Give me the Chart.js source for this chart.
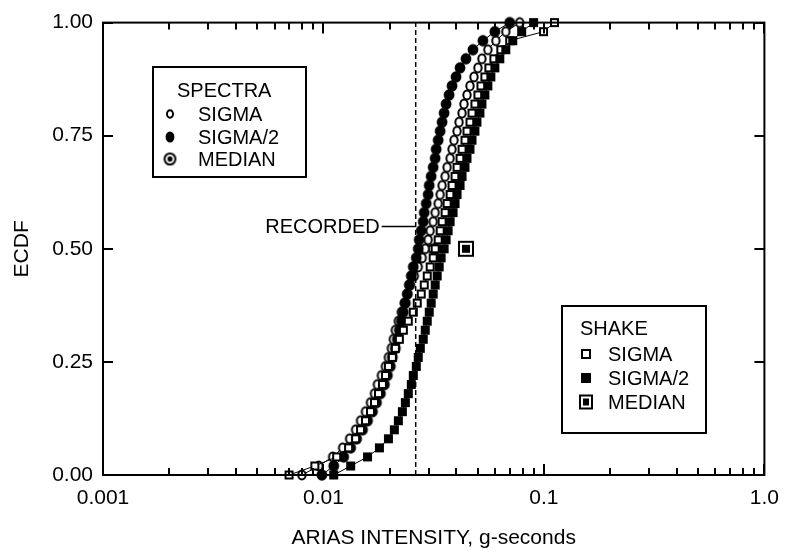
<!DOCTYPE html>
<html><head><meta charset="utf-8">
<script src="https://cdn.jsdelivr.net/npm/chart.js@4"></script>
<style>html,body{margin:0;padding:0;background:#fff;}canvas{display:block;}</style>
</head><body>
<canvas id="c" width="790" height="553"></canvas>
<script>
// ---------- data ----------
const ecdfLevels = [0, 0.02, 0.04, 0.06, 0.08, 0.1, 0.12, 0.14, 0.16, 0.18, 0.2, 0.22, 0.24, 0.26, 0.28, 0.3, 0.32, 0.34, 0.36, 0.38, 0.4, 0.42, 0.44, 0.46, 0.48, 0.5, 0.52, 0.54, 0.56, 0.58, 0.6, 0.62, 0.64, 0.66, 0.68, 0.7, 0.72, 0.74, 0.76, 0.78, 0.8, 0.82, 0.84, 0.86, 0.88, 0.9, 0.92, 0.94, 0.96, 0.98, 1];
const spectraSigma = [0.00798, 0.00952, 0.01101, 0.01222, 0.01314, 0.01399, 0.01473, 0.01551, 0.01634, 0.01703, 0.01757, 0.01832, 0.01909, 0.01970, 0.02032, 0.02075, 0.02118, 0.02186, 0.02255, 0.02327, 0.02400, 0.02476, 0.02581, 0.02691, 0.02805, 0.02894, 0.02985, 0.03048, 0.03145, 0.03211, 0.03312, 0.03382, 0.03453, 0.03562, 0.03637, 0.03752, 0.03830, 0.03911, 0.04035, 0.04119, 0.04250, 0.04339, 0.04476, 0.04618, 0.04814, 0.05018, 0.05231, 0.05567, 0.06050, 0.06712, 0.07761];
const spectraHalfSigma = [0.00983, 0.01113, 0.01235, 0.01328, 0.01413, 0.01504, 0.01584, 0.01668, 0.01739, 0.01813, 0.01890, 0.01950, 0.02011, 0.02053, 0.02118, 0.02163, 0.02209, 0.02255, 0.02303, 0.02351, 0.02400, 0.02451, 0.02502, 0.02555, 0.02636, 0.02691, 0.02719, 0.02776, 0.02834, 0.02864, 0.02924, 0.02985, 0.03017, 0.03080, 0.03145, 0.03211, 0.03244, 0.03312, 0.03382, 0.03453, 0.03525, 0.03599, 0.03713, 0.03830, 0.03993, 0.04162, 0.04430, 0.04764, 0.05285, 0.05987, 0.06996];
const shakeSigma = [0.00698, 0.00914, 0.01148, 0.01300, 0.01399, 0.01473, 0.01551, 0.01634, 0.01703, 0.01776, 0.01851, 0.01909, 0.01970, 0.02053, 0.02118, 0.02209, 0.02303, 0.02425, 0.02555, 0.02663, 0.02776, 0.02864, 0.02955, 0.03048, 0.03145, 0.03211, 0.03312, 0.03382, 0.03453, 0.03562, 0.03637, 0.03752, 0.03830, 0.03952, 0.04035, 0.04162, 0.04250, 0.04384, 0.04476, 0.04618, 0.04715, 0.04864, 0.05018, 0.05176, 0.05396, 0.05625, 0.05925, 0.06371, 0.06996, 0.09958, 0.11163];
const shakeHalfSigma = [0.01113, 0.01328, 0.01584, 0.01794, 0.01970, 0.02097, 0.02186, 0.02279, 0.02351, 0.02425, 0.02502, 0.02555, 0.02636, 0.02691, 0.02748, 0.02834, 0.02894, 0.02955, 0.03017, 0.03080, 0.03145, 0.03211, 0.03278, 0.03347, 0.03417, 0.03525, 0.03599, 0.03675, 0.03752, 0.03870, 0.03952, 0.04035, 0.04162, 0.04250, 0.04384, 0.04476, 0.04618, 0.04715, 0.04864, 0.04966, 0.05123, 0.05231, 0.05396, 0.05567, 0.05743, 0.05987, 0.06306, 0.06712, 0.07217, 0.07924, 0.08976];
const spectraMedian = [0.0318, 0.5];
const shakeMedian = [0.0443, 0.5];
const recordedValue = 0.0262;
const recordedLabelLevel = 0.55;
const xTickValues = [0.001, 0.01, 0.1, 1];
const xTickLabels = ['0.001', '0.01', '0.1', '1.0'];
const yTickValues = [0, 0.25, 0.5, 0.75, 1];
const yTickLabels = ['0.00', '0.25', '0.50', '0.75', '1.00'];

// ---------- marker images ----------
function mk(w, h, draw) { const c = document.createElement('canvas'); c.width = w; c.height = h; draw(c.getContext('2d'), w / 2, h / 2); return c; }
function ell(ctx, cx, cy, rx, ry) { ctx.beginPath(); ctx.ellipse(cx, cy, rx, ry, 0, 0, Math.PI * 2); }
const imgOpenCircle = mk(12, 14, (c, x, y) => { ell(c, x, y, 3.7, 4.5); c.fillStyle = '#fff'; c.fill(); c.lineWidth = 2; c.strokeStyle = '#000'; c.stroke(); });
const imgFilledCircle = mk(14, 14, (c, x, y) => { ell(c, x, y, 5.4, 5.8); c.fillStyle = '#000'; c.fill(); });
const imgOpenSquare = mk(11, 11, (c) => { c.fillStyle = '#000'; c.fillRect(1, 1, 9, 9); c.fillStyle = '#fff'; c.fillRect(3, 3, 5, 5); });
const imgFilledSquare = mk(11, 11, (c) => { c.fillStyle = '#000'; c.fillRect(1, 1, 9, 9); });
const imgSpectraMedian = mk(17, 14, (c, x, y) => { ell(c, x, y, 6, 4.6); c.fillStyle = '#fff'; c.fill(); c.lineWidth = 2.2; c.strokeStyle = '#000'; c.stroke(); ell(c, x, y, 2.2, 2.2); c.fillStyle = '#000'; c.fill(); });
const imgShakeMedian = mk(18, 18, (c) => { c.fillStyle = '#000'; c.fillRect(1, 1, 16, 16); c.fillStyle = '#fff'; c.fillRect(3, 3, 12, 12); c.fillStyle = '#000'; c.fillRect(5, 5, 8, 8); });
// legend variants
const lgOpenCircle = mk(10, 12, (c, x, y) => { ell(c, x, y, 3, 3.8); c.fillStyle = '#fff'; c.fill(); c.lineWidth = 2; c.strokeStyle = '#000'; c.stroke(); });
const lgFilledCircle = mk(12, 14, (c, x, y) => { ell(c, x, y, 4.4, 5.6); c.fillStyle = '#000'; c.fill(); });
const lgSpectraMedian = mk(15, 15, (c, x, y) => { ell(c, x, y, 5.4, 5.6); c.lineWidth = 2; c.strokeStyle = '#000'; c.stroke(); ell(c, x, y, 2.5, 2.8); c.fillStyle = '#000'; c.fill(); });
const lgOpenSquare = mk(12, 12, (c) => { c.fillStyle = '#000'; c.fillRect(1, 1, 10, 10); c.fillStyle = '#fff'; c.fillRect(3, 3, 6, 6); });
const lgFilledSquare = mk(12, 12, (c) => { c.fillStyle = '#000'; c.fillRect(1, 1, 10, 10); });
const lgShakeMedian = mk(16, 17, (c) => { c.fillStyle = '#000'; c.fillRect(1, 1, 14, 15); c.fillStyle = '#fff'; c.fillRect(3, 3, 10, 11); c.fillStyle = '#000'; c.fillRect(5, 5, 6, 7); });

function pts(xs) { return xs.map((x, i) => ({ x: x, y: ecdfLevels[i] })); }
const FONT = "'Liberation Sans', Arial, Helvetica, sans-serif";

function series(label, xs, img) {
  return { label, data: pts(xs), showLine: true, borderColor: '#000', borderWidth: 1, pointStyle: img, pointRadius: 5, clip: false };
}

const decorPlugin = {
  id: 'decor',
  afterDatasetsDraw(chart) {
    const { ctx, chartArea: a, scales: { x, y } } = chart;
    ctx.save();
    ctx.strokeStyle = '#000'; ctx.lineWidth = 2;
    ctx.strokeRect(a.left, a.top, a.right - a.left, a.bottom - a.top);
    ctx.beginPath();
    for (const v of xTickValues) {
      const px = Math.round(x.getPixelForValue(v));
      ctx.moveTo(px, a.bottom); ctx.lineTo(px, a.bottom - 11);
      ctx.moveTo(px, a.top); ctx.lineTo(px, a.top + 11);
    }
    for (let d = 0.001; d < 0.9; d *= 10) {
      for (let m = 2; m <= 9; m++) {
        const px = Math.round(x.getPixelForValue(m * d));
        ctx.moveTo(px, a.bottom); ctx.lineTo(px, a.bottom - 7);
        ctx.moveTo(px, a.top); ctx.lineTo(px, a.top + 7);
      }
    }
    for (const v of yTickValues) {
      const py = Math.round(y.getPixelForValue(v));
      ctx.moveTo(a.left, py); ctx.lineTo(a.left + 10, py);
      ctx.moveTo(a.right, py); ctx.lineTo(a.right - 10, py);
    }
    ctx.stroke();
    // RECORDED label
    const rx = x.getPixelForValue(recordedValue);
    const ry = Math.round(y.getPixelForValue(recordedLabelLevel)) + 0.5;
    ctx.lineWidth = 1.5;
    ctx.beginPath(); ctx.moveTo(rx - 34, ry); ctx.lineTo(rx, ry); ctx.stroke();
    ctx.fillStyle = '#000'; ctx.font = '20px ' + FONT; ctx.textAlign = 'right'; ctx.textBaseline = 'middle';
    ctx.fillText('RECORDED', rx - 36, ry + 1);
    // SPECTRA legend
    ctx.lineWidth = 2;
    ctx.fillStyle = '#fff'; ctx.fillRect(153, 67, 153, 110);
    ctx.strokeRect(153, 67, 153, 110);
    ctx.fillStyle = '#000'; ctx.textAlign = 'left'; ctx.font = '20px ' + FONT;
    ctx.fillText('SPECTRA', 177, 91);
    const lrows = [['SIGMA', lgOpenCircle, 114], ['SIGMA/2', lgFilledCircle, 137], ['MEDIAN', lgSpectraMedian, 159]];
    for (const [t, im, yy] of lrows) { ctx.drawImage(im, 170 - im.width / 2, yy - im.height / 2); ctx.fillText(t, 198, yy + 1); }
    // SHAKE legend
    ctx.fillStyle = '#fff'; ctx.fillRect(562, 306, 144, 127);
    ctx.strokeRect(562, 306, 144, 127);
    ctx.fillStyle = '#000'; ctx.font = '20px ' + FONT;
    ctx.fillText('SHAKE', 580, 329);
    const srows = [['SIGMA', lgOpenSquare, 354], ['SIGMA/2', lgFilledSquare, 378], ['MEDIAN', lgShakeMedian, 402]];
    for (const [t, im, yy] of srows) { ctx.drawImage(im, 586 - im.width / 2, yy - im.height / 2); ctx.fillText(t, 608, yy + 1); }
    ctx.restore();
  }
};

new Chart(document.getElementById('c'), {
  type: 'scatter',
  data: {
    datasets: [
      { label: 'RECORDED', data: [{ x: recordedValue, y: 0 }, { x: recordedValue, y: 1 }], showLine: true, borderColor: '#000', borderWidth: 1.5, borderDash: [5, 3], pointRadius: 0 },
      series('SHAKE SIGMA/2', shakeHalfSigma, imgFilledSquare),
      series('SHAKE SIGMA', shakeSigma, imgOpenSquare),
      series('SPECTRA SIGMA/2', spectraHalfSigma, imgFilledCircle),
      series('SPECTRA SIGMA', spectraSigma, imgOpenCircle),
      { label: 'SPECTRA MEDIAN', data: [{ x: spectraMedian[0], y: spectraMedian[1] }], pointStyle: imgSpectraMedian, pointRadius: 6, clip: false },
      { label: 'SHAKE MEDIAN', data: [{ x: shakeMedian[0], y: shakeMedian[1] }], pointStyle: imgShakeMedian, pointRadius: 6, clip: false }
    ]
  },
  options: {
    responsive: false, animation: false, devicePixelRatio: 1,
    layout: { padding: { top: 19, right: 22, left: 0, bottom: 0 } },
    plugins: { legend: { display: false }, tooltip: { enabled: false } },
    scales: {
      x: {
        type: 'logarithmic', min: 0.001, max: 1,
        grid: { display: false, drawTicks: false }, border: { display: false },
        afterBuildTicks: s => { s.ticks = xTickValues.map(v => ({ value: v })); },
        afterFit: s => { s.height = 78; },
        ticks: { autoSkip: false, maxRotation: 0, padding: 11, color: '#000', font: { family: FONT, size: 21 }, callback: (v, i) => xTickLabels[i] },
        title: { display: true, text: 'ARIAS INTENSITY, g-seconds', color: '#000', font: { family: FONT, size: 21 }, padding: { top: 0, bottom: 2 } }
      },
      y: {
        min: 0, max: 1,
        grid: { display: false, drawTicks: false }, border: { display: false },
        afterBuildTicks: s => { s.ticks = yTickValues.map(v => ({ value: v })); },
        afterFit: s => { s.width = 103; },
        ticks: { autoSkip: false, padding: 10, color: '#000', font: { family: FONT, size: 21 }, callback: (v, i) => yTickLabels[i] },
        title: { display: true, text: 'ECDF', color: '#000', font: { family: FONT, size: 21 }, padding: { top: 10, bottom: 0 } }
      }
    }
  },
  plugins: [decorPlugin]
});
</script>
</body></html>
